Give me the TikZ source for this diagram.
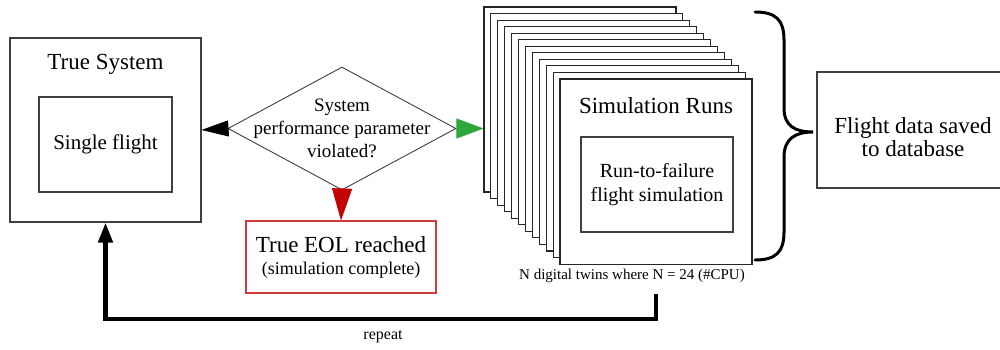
\documentclass[tikz,border=0pt]{standalone}
\usepackage{fontspec}
\setmainfont{Liberation Serif}
\usetikzlibrary{arrows.meta,shapes.geometric}
\definecolor{boxgray}{HTML}{404040}
\definecolor{arrgreen}{HTML}{2EA83A}
\definecolor{arrred}{HTML}{C40000}
\definecolor{eolred}{HTML}{D43A3A}
\begin{document}
\begin{tikzpicture}[x=1pt,y=-1pt,
  box/.style={draw=boxgray, line width=1.1pt, fill=white, inner sep=0pt},
  simbox/.style={box, draw=black!85, minimum width=192pt, minimum height=185pt},
  txt/.style={inner sep=0pt, align=center},
  big/.style={font=\fontsize{23}{27}\selectfont},
  mid/.style={font=\fontsize{20}{24}\selectfont},
  small/.style={font=\fontsize{15}{18}\selectfont}]
\useasboundingbox (0,0) rectangle (1000,350);
\clip (0,0) rectangle (1000,350);
\fill[white] (0,0) rectangle (1000,350);

% True system
\node[box, minimum width=191pt, minimum height=184pt] (tsys) at (105.5,130) {};
\node[txt, big] (tstitle) at (105.5,64) {True System};
\node[box, minimum width=133pt, minimum height=95pt, txt, font=\fontsize{21}{25}\selectfont] (single) at (105.5,144.5) {Single flight};

% Decision diamond
\node[diamond, draw=boxgray, line width=0.9pt, fill=white, minimum width=228pt, minimum height=123pt, inner sep=0pt] (dia) at (342,128.5) {};
\node[txt, font=\fontsize{19}{23}\selectfont] (diatext) at (342,128) {System\\performance parameter\\violated?};

% EOL box
\node[box, draw=eolred, minimum width=190pt, minimum height=72pt] (eol) at (341,257) {};
\node[txt, big] (eoltitle) at (341,245) {True EOL reached};
\node[txt, font=\fontsize{18}{21}\selectfont] (eolsub) at (341,270) {(simulation complete)};

% Stacked simulation boxes
\foreach \i in {0,...,11}{
  \node[simbox] (s\i) at ({580+6.91*\i},{99.5+6.55*\i}) {};
}
\node[txt, big] (simtitle) at (656,106) {Simulation Runs};
\node[box, minimum width=152pt, minimum height=95pt, txt, mid] (runfail) at (657,184.5) {Run-to-failure\\flight simulation};
\node[txt, small] (twins) at (632,276) {N digital twins where N = 24 (\#CPU)};

% Flight data box
\node[box, minimum width=190pt, minimum height=116pt] (fdata) at (912,130) {};
\node[txt, font=\fontsize{23}{23}\selectfont] (fdtext) at (913,137) {Flight data saved\\to database};

% Brace
\draw[line width=3pt, black, line cap=round]
  (755,12) .. controls (776,12) and (784,20) .. (784,40) -- (784,108)
  .. controls (784,126) and (795,132) .. (813,132)
  .. controls (795,132) and (784,139) .. (784,157) -- (784,232)
  .. controls (784,252) and (776,260) .. (755,260);

% Arrows
\draw[black, line width=0.8pt, -{Triangle[length=27pt,width=16pt]}] (dia.west) -- (tsys.east);
\draw[arrgreen, line width=0.8pt, -{Triangle[length=27pt,width=20pt]}] (dia.east) -- (dia.east -| s0.west);
\draw[arrred, line width=0.8pt, -{Triangle[length=32pt,width=20pt]}] (dia.south) -- (eol.north);

% Repeat loop
\coordinate (rs) at (656,294);
\draw[black, line width=4.5pt, -{Triangle[length=20pt,width=14pt]}] (rs) -- ++(0,25) -| (tsys.south);
\node[txt, font=\fontsize{16}{19}\selectfont] (rep) at (383,337) {repeat};
\end{tikzpicture}
\end{document}
